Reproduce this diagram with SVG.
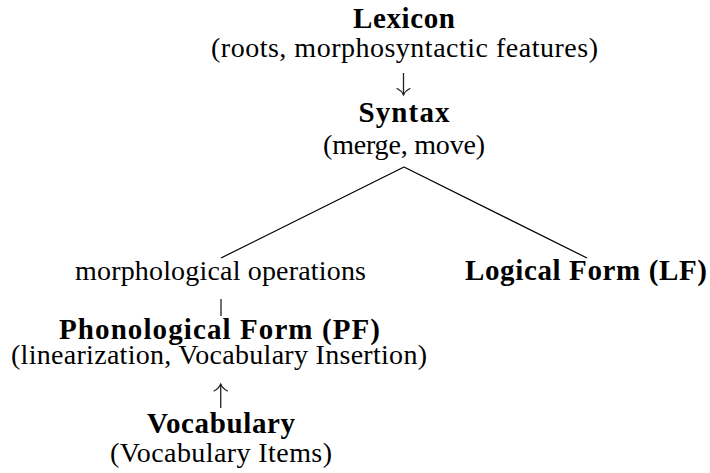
<svg xmlns="http://www.w3.org/2000/svg" width="710" height="473" viewBox="0 0 710 473">
  <style>
    text { font-family: "Liberation Serif", serif; font-size: 28px; fill: #000; text-anchor: middle; }
    .b { font-weight: bold; font-size: 29px; }
    .edge { stroke: #000; stroke-width: 1.2; fill: none; }
    .shaft { stroke: #222; stroke-width: 1.3; fill: none; }
    .barb { stroke: #222; stroke-width: 1.2; fill: none; stroke-linecap: round; }
  </style>
  <rect width="710" height="473" fill="#fff"/>

  <!-- connectors: tree branches, vertical bar and the two arrows -->
  <g id="connectors">
    <line class="edge" x1="404" y1="167" x2="221" y2="258"/>
    <line class="edge" x1="404" y1="167" x2="587" y2="258"/>
    <line class="shaft" x1="221" y1="299" x2="221" y2="316"/>

    <!-- Lexicon to Syntax -->
    <line class="shaft" x1="403.5" y1="73" x2="403.5" y2="95"/>
    <path class="barb" d="M397,88.5 Q401.5,90.5 403.5,95 Q405.5,90.5 410,88.5"/>

    <!-- Vocabulary to PF -->
    <line class="shaft" x1="220.7" y1="384" x2="220.7" y2="408"/>
    <path class="barb" d="M214,391 Q218.5,389 220.7,384 Q223,389 227.5,391"/>
  </g>

  <g id="lexicon">
    <text class="b" x="404" y="28" textLength="102" lengthAdjust="spacing">Lexicon</text>
    <text x="404.5" y="57" textLength="387" lengthAdjust="spacing">(roots, morphosyntactic features)</text>
  </g>

  <g id="syntax">
    <text class="b" x="404" y="122" textLength="91" lengthAdjust="spacing">Syntax</text>
    <text x="404" y="154" textLength="162" lengthAdjust="spacing">(merge, move)</text>
  </g>

  <g id="morphology">
    <text x="220.5" y="280" textLength="291" lengthAdjust="spacing">morphological operations</text>
  </g>

  <g id="lf">
    <text class="b" x="586" y="280" textLength="242" lengthAdjust="spacing">Logical Form (LF)</text>
  </g>

  <g id="pf">
    <text class="b" x="219.5" y="339" textLength="321" lengthAdjust="spacing">Phonological Form (PF)</text>
    <text x="219" y="364" textLength="416" lengthAdjust="spacing">(linearization, Vocabulary Insertion)</text>
  </g>

  <g id="vocabulary">
    <text class="b" x="221" y="433" textLength="148" lengthAdjust="spacing">Vocabulary</text>
    <text x="221" y="462" textLength="222" lengthAdjust="spacing">(Vocabulary Items)</text>
  </g>
</svg>
